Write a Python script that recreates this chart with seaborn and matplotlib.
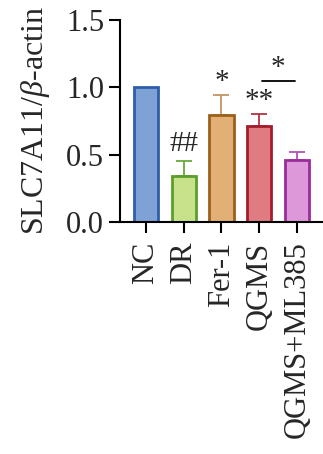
import matplotlib
matplotlib.use('Agg')
import matplotlib.pyplot as plt
import seaborn as sns
import pandas as pd

groups = ['NC', 'DR', 'Fer-1', 'QGMS', 'QGMS+ML385']
means = [1.0, 0.345, 0.797, 0.71, 0.46]
sems = [0.0, 0.105, 0.143, 0.09, 0.06]
fills = ['#7ea2d6', '#c8e28c', '#e2af74', '#e07b82', '#dc98d8']
edges = ['#2f5ea8', '#5c9e2c', '#9c601c', '#a61c2c', '#9a2c9a']
errcols = ['#2f5ea8', '#6aa83c', '#c49464', '#b03444', '#b254b2']
marks = ['', '##', '*', '**', '']

sns.set_theme(style='ticks')
plt.rcParams['font.family'] = ['Liberation Serif', 'DejaVu Serif']
plt.rcParams['mathtext.fontset'] = 'custom'
plt.rcParams['mathtext.rm'] = 'Liberation Serif'
plt.rcParams['mathtext.it'] = 'Liberation Serif:italic'

df = pd.DataFrame({'group': groups, 'value': means})

fig = plt.figure(figsize=(3.23, 4.54), dpi=100)
ax = fig.add_axes([0.3715, 0.511, 0.6285, 0.445])

sns.barplot(data=df, x='group', y='value', hue='group', palette=fills,
            legend=False, errorbar=None, width=0.64, ax=ax, saturation=1)

for i, p in enumerate(ax.patches):
    p.set_edgecolor(edges[i])
    p.set_linewidth(2.0)
    if sems[i] > 0:
        ax.errorbar(i, means[i], yerr=[[0], [sems[i]]], color=errcols[i],
                    capsize=6, capthick=1.3, elinewidth=1.3, zorder=1)
    p.set_zorder(2)

# significance marks
ypos = {1: 0.48, 2: 0.94, 3: 0.8}
for i, m in enumerate(marks):
    if m:
        ax.text(i, ypos[i], m, ha='center', va='bottom', fontsize=21)
ax.plot([3.08, 3.95], [1.05, 1.05], color='black', lw=1.3)
ax.text(3.5, 1.05, '*', ha='center', va='bottom', fontsize=21)

ax.set_ylim(0, 1.5)
ax.set_xlim(-0.69, 4.69)
ax.set_yticks([0.0, 0.5, 1.0, 1.5])
ax.set_yticklabels(['0.0', '0.5', '1.0', '1.5'])
ax.set_xlabel('')
ax.set_ylabel(r'SLC7A11/$\it{\beta}$-actin', fontsize=23, labelpad=10)
ax.tick_params(axis='both', labelsize=22, width=1.5, length=8, color='black')
ax.tick_params(axis='x', rotation=90, pad=6)
for lab in ax.get_xticklabels():
    lab.set_va('top')
for s in ['left', 'bottom']:
    ax.spines[s].set_linewidth(1.5)
    ax.spines[s].set_color('black')
sns.despine(ax=ax)

fig.savefig('out.png', dpi=100)
